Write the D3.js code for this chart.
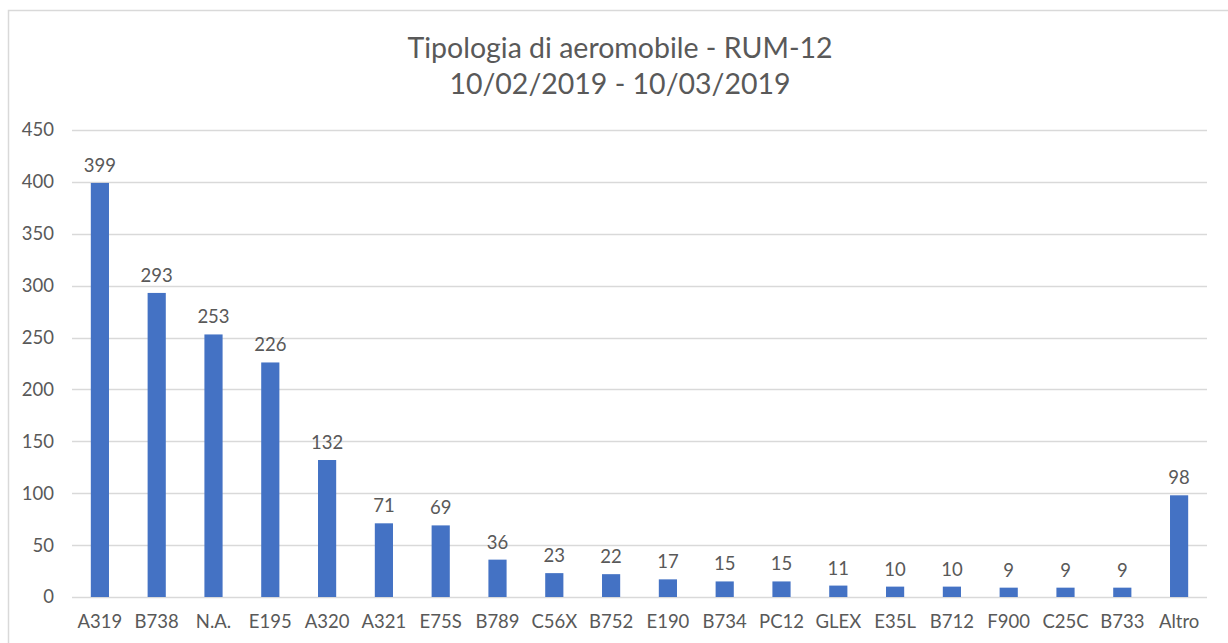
<!DOCTYPE html>
<html>
<head>
<meta charset="utf-8">
<script src="https://cdn.jsdelivr.net/npm/d3@7"></script>
<style>
  body { margin: 0; background: #fff; }
  svg { display: block; }
</style>
</head>
<body>
<svg id="chart" width="1228" height="643"></svg>
<script>
const titleLines = ["Tipologia di aeromobile - RUM-12", "10/02/2019 - 10/03/2019"];
const categories = ["A319", "B738", "N.A.", "E195", "A320", "A321", "E75S", "B789", "C56X", "B752",
                    "E190", "B734", "PC12", "GLEX", "E35L", "B712", "F900", "C25C", "B733", "Altro"];
const values = [399, 293, 253, 226, 132, 71, 69, 36, 23, 22, 17, 15, 15, 11, 10, 10, 9, 9, 9, 98];
const yTicks = [0, 50, 100, 150, 200, 250, 300, 350, 400, 450];

const svg = d3.select("#chart");
const font = "Lato, sans-serif";
const textColor = "#595959";

// chart frame
svg.append("rect")
    .attr("x", 8.5).attr("y", 10.5)
    .attr("width", 1240).attr("height", 660)
    .attr("fill", "#fff")
    .attr("stroke", "#d9d9d9")
    .attr("stroke-width", 1.5);

const x = d3.scaleBand()
    .domain(categories)
    .range([71.5, 1207.5])
    .paddingInner(0.68)
    .paddingOuter(0.34);

const y = d3.scaleLinear()
    .domain([0, 450])
    .range([597, 130]);

// gridlines
svg.append("g")
    .selectAll("line")
    .data(yTicks)
    .join("line")
    .attr("x1", 72).attr("x2", 1207)
    .attr("y1", d => Math.round(y(d)) + 0.5)
    .attr("y2", d => Math.round(y(d)) + 0.5)
    .attr("stroke", "#d9d9d9")
    .attr("stroke-width", 1.5);

// y axis labels
const yAxis = svg.append("g")
    .attr("transform", "translate(54,0)")
    .call(d3.axisLeft(y).tickValues(yTicks).tickSize(0).tickPadding(0));
yAxis.select(".domain").remove();
yAxis.selectAll("text")
    .attr("fill", textColor)
    .style("font", `18.5px ${font}`);

// x axis labels
const xAxis = svg.append("g")
    .attr("transform", "translate(0,597)")
    .call(d3.axisBottom(x).tickSize(0).tickPadding(18));
xAxis.select(".domain").remove();
xAxis.selectAll("text")
    .attr("fill", textColor)
    .style("font", `18.5px ${font}`);

// bars
svg.append("g")
    .selectAll("rect")
    .data(values)
    .join("rect")
    .attr("x", (d, i) => x(categories[i]))
    .attr("width", x.bandwidth())
    .attr("y", d => y(d))
    .attr("height", d => y(0) - y(d))
    .attr("fill", "#4472c4");

// value labels
svg.append("g")
    .selectAll("text")
    .data(values)
    .join("text")
    .attr("x", (d, i) => x(categories[i]) + x.bandwidth() / 2)
    .attr("y", d => y(d) - 11)
    .attr("text-anchor", "middle")
    .attr("fill", textColor)
    .style("font", `18.5px ${font}`)
    .text(d => d);

// title
svg.append("g")
    .selectAll("text")
    .data(titleLines)
    .join("text")
    .attr("x", 620)
    .attr("y", (d, i) => 58 + i * 36)
    .attr("text-anchor", "middle")
    .attr("fill", textColor)
    .style("font", `28.5px ${font}`)
    .text(d => d);
</script>
</body>
</html>
